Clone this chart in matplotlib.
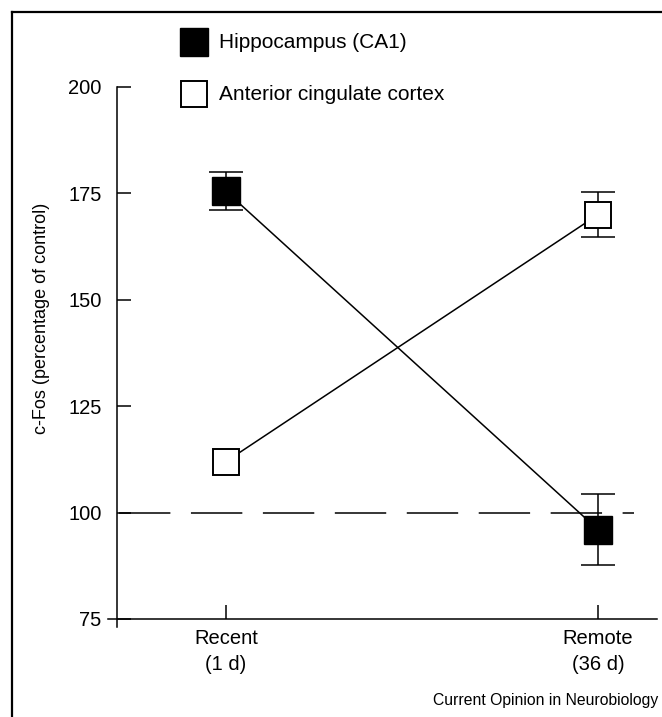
import matplotlib
matplotlib.use("Agg")
import matplotlib.pyplot as plt
from matplotlib.lines import Line2D

plt.rcParams['font.family'] = ['Liberation Sans', 'DejaVu Sans']

# ---- data ----
categories = ["Recent\n(1 d)", "Remote\n(36 d)"]
hippo_mean = [175.5, 96.0]
hippo_err = [4.5, 8.3]
acc_mean = [112.0, 170.0]
acc_err = [0.0, 5.3]
yticks = [75, 100, 125, 150, 175, 200]
control_level = 100
series_labels = ["Hippocampus (CA1)", "Anterior cingulate cortex"]
ylabel = "c-Fos (percentage of control)"
credit = "Current Opinion in Neurobiology"

W, H = 662, 717
fig = plt.figure(figsize=(W / 100, H / 100), dpi=100)

# axes placement in pixels
x0, x1 = -0.32, 1.16
y0, y1 = 73, 200
px_left = 226 + 372 * x0
px_right = 226 + 372 * x1
px_top = 87
px_bottom = 87 + (200 - y0) * 4.256
ax = fig.add_axes([px_left / W, 1 - px_bottom / H,
                   (px_right - px_left) / W, (px_bottom - px_top) / H])
ax.set_xlim(x0, x1)
ax.set_ylim(y0, y1)
ax.patch.set_alpha(0)

xs = list(range(len(categories)))
lw = 1.1

# reference line
ax.plot([-0.288, 1.097], [control_level, control_level], color='black',
        lw=lw, dashes=(37 / lw, 14.8 / lw), zorder=1)

# connecting lines
ax.plot(xs, hippo_mean, color='black', lw=lw, zorder=2)
ax.plot(xs, acc_mean, color='black', lw=lw, zorder=2)


def draw_err(means, errs):
    ix = [i for i, e in enumerate(errs) if e > 0]
    ax.errorbar([xs[i] for i in ix], [means[i] for i in ix],
                yerr=[errs[i] for i in ix], fmt='none', ecolor='black',
                elinewidth=1.1, capsize=12, capthick=1.1, zorder=3)


draw_err(hippo_mean, hippo_err)
draw_err(acc_mean, acc_err)

# markers
ax.plot(xs, hippo_mean, linestyle='none', marker='s', markersize=19.5,
        markerfacecolor='black', markeredgecolor='black', markeredgewidth=1.0,
        zorder=4)
ax.plot(xs, acc_mean, linestyle='none', marker='s', markersize=18.5,
        markerfacecolor='white', markeredgecolor='black', markeredgewidth=1.4,
        zorder=4)

# spines
for s in ['top', 'right']:
    ax.spines[s].set_visible(False)
ax.spines['left'].set_position(('data', -0.293))
ax.spines['left'].set_bounds(73.1, 200)
ax.spines['bottom'].set_position(('data', 75))
ax.spines['bottom'].set_bounds(-0.317, 1.159)
for s in ['left', 'bottom']:
    ax.spines[s].set_linewidth(1.1)

ax.set_yticks(yticks)
ax.set_yticklabels([str(t) for t in yticks])
ax.set_xticks(xs)
ax.set_xticklabels(categories)
ax.tick_params(axis='y', direction='in', length=10, width=1.1, pad=11,
               labelsize=14.5)
ax.tick_params(axis='x', direction='in', length=10, width=1.1, pad=7,
               labelsize=14.5)
for t in ax.get_xticklabels():
    t.set_linespacing(1.5)

fig.text(42 / W, 1 - 318 / H, ylabel, rotation=90, ha='center', va='center',
         fontsize=13)

# legend (manual)
fig.add_artist(Line2D([193.5 / W], [1 - 42 / H], marker='s', markersize=19.5,
                      markerfacecolor='black', markeredgecolor='black',
                      markeredgewidth=1.0, linestyle='none',
                      transform=fig.transFigure))
fig.add_artist(Line2D([193.5 / W], [1 - 93.5 / H], marker='s', markersize=18.5,
                      markerfacecolor='white', markeredgecolor='black',
                      markeredgewidth=1.4, linestyle='none',
                      transform=fig.transFigure))
fig.text(219 / W, 1 - 43 / H, series_labels[0], ha='left', va='center',
         fontsize=15)
fig.text(219 / W, 1 - 94 / H, series_labels[1], ha='left', va='center',
         fontsize=15)

fig.text(658 / W, 1 - 701 / H, credit, ha='right', va='center', fontsize=11.3)

# frame (top and left)
fig.add_artist(Line2D([12 / W, 1.0], [1 - 12 / H, 1 - 12 / H], color='black',
                      lw=1.6, transform=fig.transFigure))
fig.add_artist(Line2D([12 / W, 12 / W], [1 - 12 / H, 0.0], color='black',
                      lw=1.6, transform=fig.transFigure))

fig.savefig("out.png", dpi=100)
